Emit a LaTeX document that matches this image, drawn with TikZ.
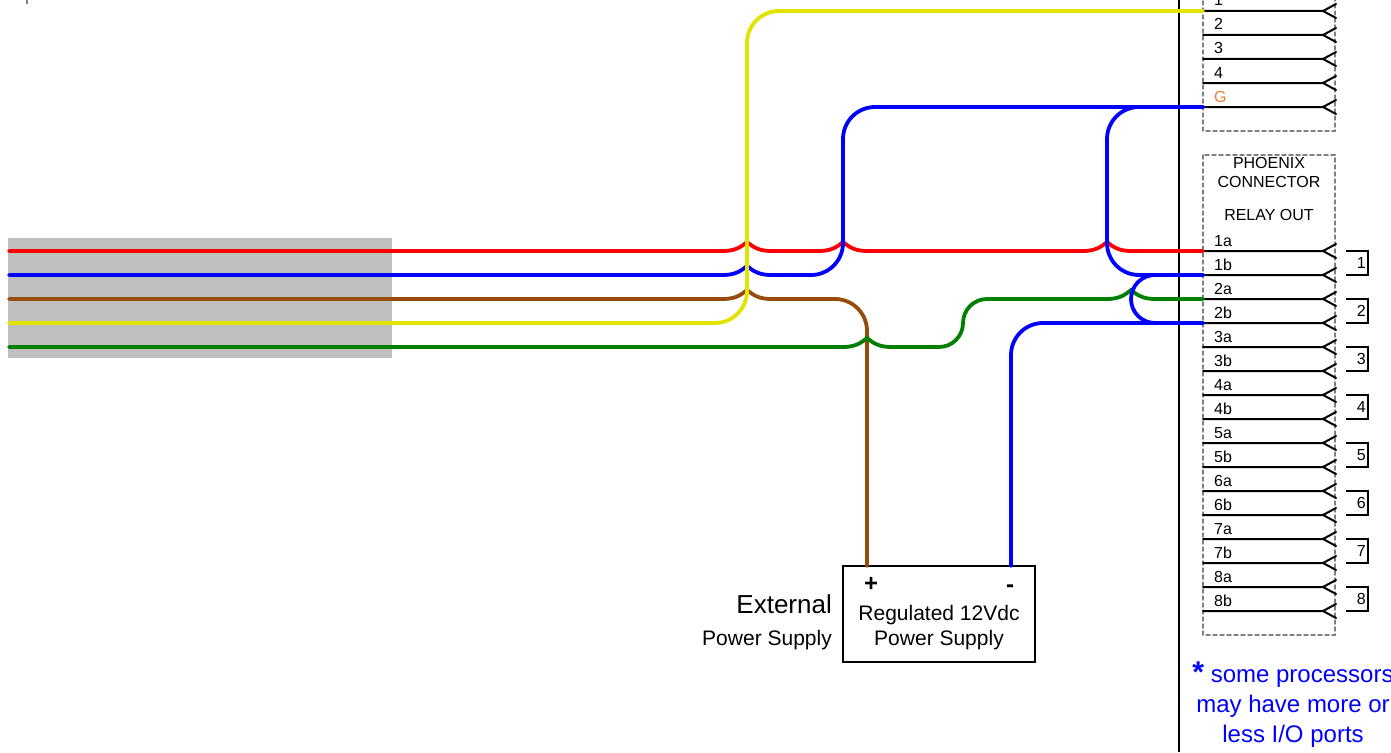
\documentclass[tikz,border=0pt]{standalone}
\usepackage{fontspec}
\setmainfont{Liberation Sans}
\definecolor{wireyellow}{HTML}{E3E300}
\definecolor{wirebrown}{HTML}{984C0C}
\definecolor{wiregreen}{HTML}{008000}
\definecolor{cablegray}{HTML}{BFBFBF}
\definecolor{groundorange}{HTML}{ED7D31}
\tikzset{
  wire/.style={line width=3.8pt},
  pinline/.style={line width=2pt},
  pinlabel/.style={font=\fontsize{16}{18}\selectfont,inner sep=0pt,anchor=base west},
  connbox/.style={draw=gray,line width=1.5pt,dash pattern=on 4pt off 3pt},
  boxtext/.style={font=\fontsize{16}{18}\selectfont,inner sep=0pt},
  bigtext/.style={font=\fontsize{21}{25}\selectfont,inner sep=0pt,align=center}
}
% one hop of a wire over the wire that crosses it
\newcommand{\hopat}[1]{-- ([xshift=-24]#1) [sharp corners] .. controls +(12,0) and +(-6,5) .. ([yshift=9]#1) .. controls +(6,5) and +(-12,0) .. ([xshift=24]#1) }
\begin{document}
\begin{tikzpicture}[x=1pt,y=-1pt,line cap=round]
            \clip (0,0) rectangle (1391,752);
            \draw [gray,line width=2pt,line cap=butt] (27,0) -- (27,4);     % tick
            \node (cable) [fill=cablegray,minimum width=384pt,minimum height=120pt,inner sep=0pt] at (200,298) {};
            \draw [line width=2pt,line cap=butt] (1179,0) -- (1179,752);    % wall
            \draw [connbox] (1203,-20) rectangle (1335,131);                % top box
            \draw [connbox] (1203,155) rectangle (1335,635);                % relay box
            \node (phoenix) [boxtext] at (1269,163) {PHOENIX};
            \node (connector) [boxtext] at (1269,182) {CONNECTOR};
            \node (relayout) [boxtext] at (1269,215) {RELAY OUT};
            % pins
            \foreach \pinname/\pincolor [count=\i, evaluate=\i as \piny using 24*\i-13] in {1/black,2/black,3/black,4/black,G/groundorange} {
              \coordinate (pin\pinname) at (1203,\piny);
              \draw [pinline] (pin\pinname) -- ++(120,0) coordinate (tip) ++(13,-7) -- (tip) -- ++(13,7);
              \node (lab\pinname) [pinlabel,text=\pincolor] at (1214,\piny-5) {\pinname};
            }
            \foreach \pinname [count=\i, evaluate=\i as \piny using 227+24*\i] in {1a,1b,2a,2b,3a,3b,4a,4b,5a,5b,6a,6b,7a,7b,8a,8b} {
              \coordinate (pin\pinname) at (1203,\piny);
              \draw [pinline] (pin\pinname) -- ++(120,0) coordinate (tip) ++(13,-7) -- (tip) -- ++(13,7);
              \node (lab\pinname) [pinlabel] at (1214,\piny-5) {\pinname};
            }
            % relay numbers
            \foreach \relayno in {1,...,8} {
              \draw [pinline,line cap=butt] ([xshift=143]pin\relayno a) -- ++(22,0) -- ++(0,24) -- ++(-22,0);
              \node (relay\relayno) [boxtext,anchor=east] at ([xshift=163,yshift=-12]pin\relayno a) {\relayno};
            }
            % power supply
            \node (psu) [draw,line width=2pt,minimum width=192pt,minimum height=96pt] at (939,614) {};
            \coordinate (psuplus) at (867,566);
            \coordinate (psuminus) at (1011,566);
            \node (plus) [inner sep=0pt,font=\bfseries\fontsize{24}{24}\selectfont] at (871,584) {+};
            \node (minus) [inner sep=0pt,font=\bfseries\fontsize{24}{24}\selectfont] at (1010,589) {-};
            \node (psutext) [bigtext] at (939,628) {Regulated 12Vdc\\Power Supply};
            \node (external) [inner sep=0pt,anchor=east,font=\fontsize{26}{26}\selectfont] at (832,604) {External};
            \node (extsupply) [inner sep=0pt,anchor=east,font=\fontsize{21}{21}\selectfont] at (832,640) {Power Supply};
            % wire starts and crossings
            \coordinate (startred) at (9,251);
            \coordinate (startblue) at (9,275);
            \coordinate (startbrown) at (9,299);
            \coordinate (startyellow) at (9,323);
            \coordinate (startgreen) at (9,347);
            \coordinate (crossa) at (747,0);
            \coordinate (crossb) at (843,0);
            \coordinate (crossc) at (867,0);
            \coordinate (crossd) at (963,0);
            \coordinate (crosse) at (1107,0);
            \coordinate (crossf) at (1131,0);
            \coordinate (greenmid) at (1040,299);
            % wires
            \draw [wire,red] (startred) \hopat{crossa |- startred} \hopat{crossb |- startred} \hopat{crosse |- startred} -- (pin1a);
            \draw [wire,wirebrown] (startbrown) \hopat{crossa |- startbrown} [rounded corners=32pt] -| (psuplus);
            \draw [wire,wiregreen] (startgreen) \hopat{crossc |- startgreen} [rounded corners=24pt] -- (crossd |- startgreen) -- (crossd |- greenmid) -- (greenmid);
            \draw [wire,wiregreen] (greenmid) \hopat{crossf |- greenmid} -- (pin2a);
            \draw [wire,blue] (startblue) \hopat{crossa |- startblue} [rounded corners=32pt] -- (crossb |- startblue) -- (crossb |- pinG) -- (pinG);
            \draw [wire,blue,rounded corners=32pt] (pin1b) -- (crosse |- pin1b) -- (crosse |- pinG) -- (pinG);
            \draw [wire,blue,rounded corners=32pt] (psuminus) |- (pin2b);
            \draw [wire,blue,rounded corners=24pt] (pin2b) -- (crossf |- pin2b) -- (crossf |- pin1b) -- (pin1b);
            \draw [wire,wireyellow,rounded corners=32pt] (startyellow) -- (crossa |- startyellow) -- (crossa |- pin1) -- (pin1);
            % note
            \node (note) [inner sep=0pt,align=center,text=blue,font=\fontsize{24}{30}\selectfont] at (1293,705) {{\bfseries\fontsize{30}{30}\selectfont *} some processors\\may have more or\\less I/O ports};
\end{tikzpicture}
\end{document}
